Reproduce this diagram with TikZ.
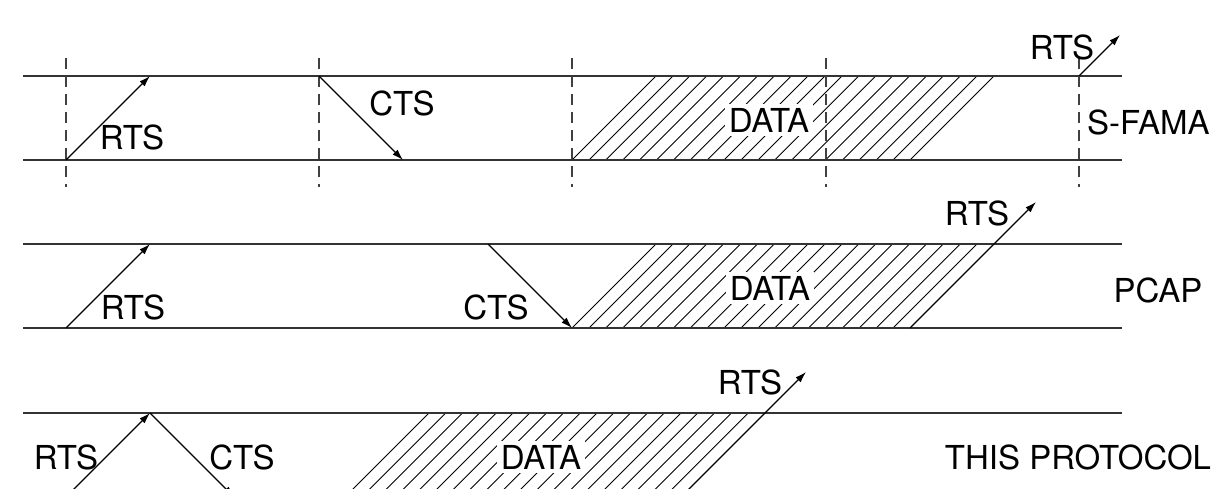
\documentclass[tikz,border=0pt]{standalone}
\usepackage{fontspec}
\setmainfont{TeX Gyre Heros}
\usetikzlibrary{arrows.meta}
\begin{document}
\begin{tikzpicture}[x=1pt,y=-1pt,
  lane/.style={line width=1.5pt, black!80},
  msg/.style={line width=1.1pt, -{Latex[length=11pt,width=7pt]}},
  hatchline/.style={line width=0.9pt},
  tick/.style={line width=1.3pt, black!75, dash pattern=on 11pt off 7pt},
  lbl/.style={font=\fontsize{33}{38}\selectfont, inner sep=0pt},
  datalbl/.style={lbl, fill=white, inner sep=4pt}]
\useasboundingbox (0,0) rectangle (1216,489);
\clip (0,0) rectangle (1216,489);

% ---------- hatched DATA areas ----------
\foreach \i in {0,...,20}
  \draw[hatchline] ({572+\i*16.9},160) -- ({656+\i*16.9},76);
\foreach \i in {0,...,19}
  \draw[hatchline] ({572+\i*16.9},328) -- ({656+\i*16.9},244);
\foreach \i in {0,...,19}
  \draw[hatchline] ({345+\i*16.8},497) -- ({429+\i*16.8},413);

\node[datalbl] (data1) at (769,120) {DATA};
\node[datalbl] (data2) at (770,288) {DATA};
\node[datalbl] (data3) at (541,457) {DATA};

% ---------- lanes ----------
\coordinate (l1ta) at (23,76);  \coordinate (l1tb) at (1122,76);
\coordinate (l1ba) at (23,160); \coordinate (l1bb) at (1122,160);
\coordinate (l2ta) at (23,244); \coordinate (l2tb) at (1122,244);
\coordinate (l2ba) at (23,328); \coordinate (l2bb) at (1122,328);
\coordinate (l3ta) at (23,413); \coordinate (l3tb) at (1122,413);
\coordinate (l3ba) at (23,497); \coordinate (l3bb) at (1122,497);
\draw[lane] (l1ta) -- (l1tb);
\draw[lane] (l1ba) -- (l1bb);
\draw[lane] (l2ta) -- (l2tb);
\draw[lane] (l2ba) -- (l2bb);
\draw[lane] (l3ta) -- (l3tb);
\draw[lane] (l3ba) -- (l3bb);

% ---------- dashed slot marks (S-FAMA) ----------
\foreach \k/\x in {1/66,2/319,3/572,4/826,5/1079}{
  \coordinate (s\k t) at (\x,58);
  \coordinate (s\k b) at (\x,187);
  \draw[tick] (s\k t) -- (s\k b);
}

% ---------- messages ----------
\coordinate (a1) at (66,160);   \coordinate (a2) at (150,76);
\coordinate (a3) at (319,76);   \coordinate (a4) at (403,160);
\coordinate (a5) at (1079,76);  \coordinate (a6) at (1120,35);
\draw[msg] (a1) -- (a2);
\draw[msg] (a3) -- (a4);
\draw[msg] (a5) -- (a6);

\coordinate (b1) at (66,328);   \coordinate (b2) at (150,244);
\coordinate (b3) at (488,244);  \coordinate (b4) at (572,328);
\coordinate (b5) at (910,328);  \coordinate (b6) at (1036,202);
\draw[msg] (b1) -- (b2);
\draw[msg] (b3) -- (b4);
\draw[msg] (b5) -- (b6);

\coordinate (c1) at (66,497);   \coordinate (c2) at (150,413);
\coordinate (c3) at (234,497);
\coordinate (c5) at (681,497);  \coordinate (c6) at (806,372);
\draw[msg] (c1) -- (c2);
\draw[msg] (c2) -- (c3);
\draw[msg] (c5) -- (c6);

% ---------- labels ----------
\node[lbl] (r1a) at (132,137) {RTS};
\node[lbl] (c1a) at (402,103) {CTS};
\node[lbl] (r1b) at (1062,47) {RTS};
\node[lbl, anchor=west] (sfama) at (1087,122) {S-FAMA};

\node[lbl] (r2a) at (133,307) {RTS};
\node[lbl] (c2a) at (496,307) {CTS};
\node[lbl] (r2b) at (977,213) {RTS};
\node[lbl] (pcap) at (1158,290) {PCAP};

\node[lbl] (r3a) at (66,457) {RTS};
\node[lbl] (c3a) at (242,457) {CTS};
\node[lbl] (r3b) at (750,382) {RTS};
\node[lbl] (thisp) at (1078,457) {THIS PROTOCOL};
\end{tikzpicture}
\end{document}
